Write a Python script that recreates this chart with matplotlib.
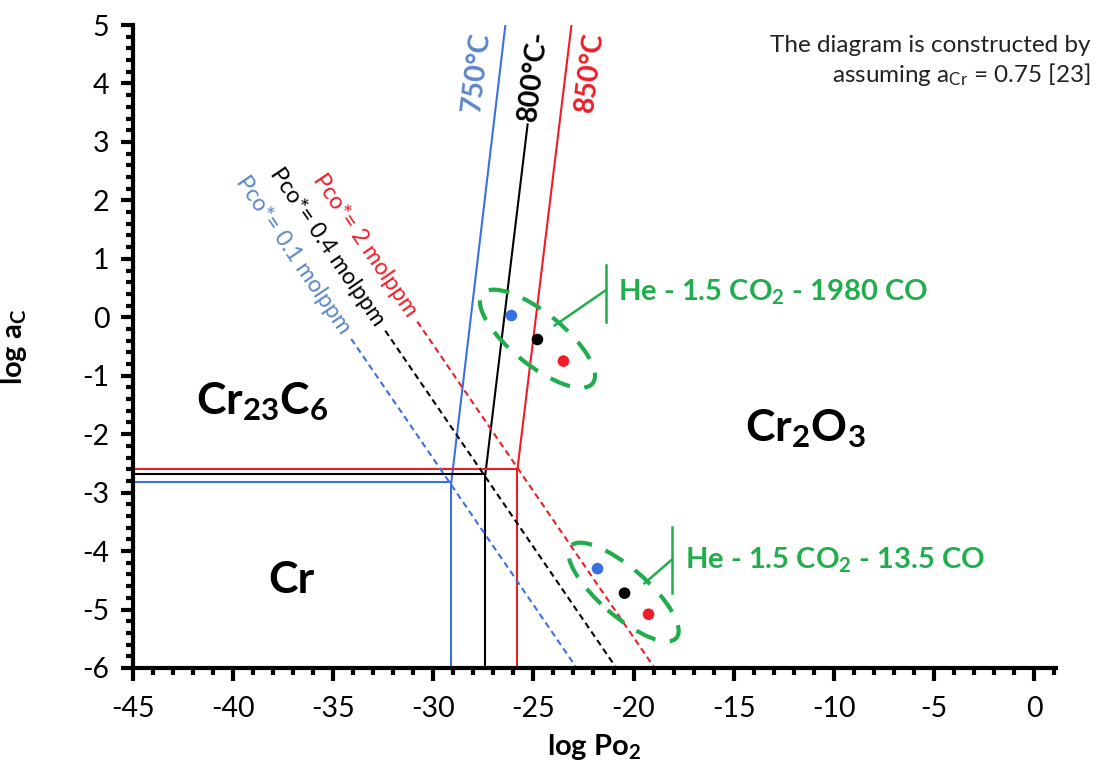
import numpy as np
import matplotlib
matplotlib.use("Agg")
import matplotlib.pyplot as plt
from matplotlib.patches import Ellipse
from matplotlib.transforms import ScaledTranslation
from matplotlib.ticker import MultipleLocator

plt.rcParams["font.family"] = ["Lato", "DejaVu Sans"]
plt.rcParams["mathtext.fontset"] = "custom"
plt.rcParams["mathtext.rm"] = "Lato"
plt.rcParams["mathtext.it"] = "Lato:italic"
plt.rcParams["mathtext.bf"] = "Lato:bold"
plt.rcParams["mathtext.default"] = "regular"
plt.rcParams["axes.unicode_minus"] = False

# ---- phase boundary data -------------------------------------------------
temps = ["750°C", "800°C-", "850°C"]
temp_colors = ["#3b6fe6", "#000000", "#ee1c25"]
temp_label_colors = ["#5a86c8", "#000000", "#ee1c25"]
# triple point (Cr / Cr23C6 / Cr2O3) for each temperature
corner_x = [-29.1, -27.4, -25.8]
corner_y = [-2.82, -2.68, -2.60]
# upper end of the Cr23C6 / Cr2O3 boundary
top_x = [-26.4, -25.29, -23.1]
top_y = [5.0, 3.3, 5.0]

# CO iso-pressure lines: log aC = -0.5 * log PO2 + b
pco_labels = ["Pco*= 0.1 molppm", "Pco*= 0.4 molppm", "Pco*= 2 molppm"]
pco_colors = ["#3b6fe6", "#000000", "#ee1c25"]
pco_text_colors = ["#5a86c8", "#000000", "#ee1c25"]
pco_slope = -0.5
pco_intercept = [-17.42, -16.43, -15.475]
pco_start_x = [-34.1, -32.4, -30.8]

# measured conditions (750, 800, 850 °C)
point_colors = ["#3b6fe6", "#000000", "#ee1c25"]
high_co_x = [-26.1, -24.8, -23.5]
high_co_y = [0.03, -0.38, -0.75]
low_co_x = [-21.8, -20.45, -19.25]
low_co_y = [-4.30, -4.72, -5.08]

x_ticks = [-45, -40, -35, -30, -25, -20, -15, -10, -5, 0]
y_ticks = [-6, -5, -4, -3, -2, -1, 0, 1, 2, 3, 4, 5]

green = "#1fae4b"

fig = plt.figure(figsize=(11.03, 7.65), dpi=100)
ax = fig.add_axes([133 / 1103, 1 - 668 / 765, (1056 - 133) / 1103, (668 - 25) / 765])
ax.set_xlim(-45, 1.1)
ax.set_ylim(-6, 5)

for s in ["top", "right"]:
    ax.spines[s].set_visible(False)
for s in ["left", "bottom"]:
    ax.spines[s].set_linewidth(3)
ax.spines["left"].set_bounds(-6, 5)
ax.set_xticks(x_ticks)
ax.set_yticks(y_ticks)
ax.xaxis.set_minor_locator(MultipleLocator(1))
ax.yaxis.set_minor_locator(MultipleLocator(0.2))
ax.tick_params(which="major", length=9, width=3, direction="out", labelsize=20.5, pad=8)
ax.tick_params(axis="x", which="major", pad=11)
ax.tick_params(which="minor", length=5, width=3, direction="out")

ax.set_xlabel("log Po$_\\mathbf{2}$", fontsize=21, fontweight="bold", labelpad=7)
ax.set_ylabel("log a$_\\mathbf{C}$", fontsize=21, fontweight="bold", labelpad=38)


def screen_angle(slope, x, y):
    ang = np.degrees(np.arctan(slope))
    return ax.transData.transform_angles(np.array([ang]), np.array([[x, y]]))[0]


# phase boundaries
for i in range(3):
    c = temp_colors[i]
    ax.plot([-45, corner_x[i]], [corner_y[i], corner_y[i]], color=c, lw=1.5)
    ax.plot([corner_x[i], corner_x[i]], [-6, corner_y[i]], color=c, lw=1.5)
    ax.plot([corner_x[i], top_x[i]], [corner_y[i], top_y[i]], color=c, lw=1.5)

# temperature labels
for i in range(3):
    slope = (top_y[i] - corner_y[i]) / (top_x[i] - corner_x[i])
    if i == 1:
        xt, yt = top_x[i], top_y[i]
        rot = screen_angle(slope, xt, yt)
        ax.annotate(temps[i], (xt, yt), xytext=(0.3, 2.5), textcoords="offset points",
                    rotation=rot, rotation_mode="anchor", ha="left", va="center",
                    fontsize=20.5, fontweight="bold", color=temp_label_colors[i])
    else:
        yt = 4.2
        xt = corner_x[i] + (yt - corner_y[i]) / slope
        rot = screen_angle(slope, xt, yt)
        off = -17 if i == 0 else 17
        ax.annotate(temps[i], (xt, yt), xytext=(off, 0), textcoords="offset points",
                    rotation=rot, rotation_mode="anchor", ha="center", va="center",
                    fontsize=20.5, fontweight="bold", color=temp_label_colors[i])

# CO iso-pressure lines and their labels
for i in range(3):
    b = pco_intercept[i]
    x0 = pco_start_x[i]
    x1 = (-6 - b) / pco_slope
    ax.plot([x0, x1], [pco_slope * x0 + b, -6], color=pco_colors[i], lw=1.5,
            ls=(0, (3, 2)))
    xt = x0 - 0.25
    yt = pco_slope * xt + b
    rot = screen_angle(pco_slope, xt, yt)
    ax.text(xt, yt, pco_labels[i], rotation=rot, rotation_mode="anchor",
            ha="right", va="center", fontsize=16.5, color=pco_text_colors[i])

# measured points
ax.scatter(high_co_x, high_co_y, s=70, c=point_colors, zorder=5, linewidths=0)
ax.scatter(low_co_x, low_co_y, s=70, c=point_colors, zorder=5, linewidths=0)


def group_ellipse(xs, ys, w, h, ang):
    cx, cy = np.mean(xs), np.mean(ys)
    tr = fig.dpi_scale_trans + ScaledTranslation(cx, cy, ax.transData)
    e = Ellipse((0, 0), w, h, angle=ang, transform=tr, fill=False,
                edgecolor=green, lw=3, ls=(0, (5, 3.5)), zorder=4)
    ax.add_patch(e)


group_ellipse(high_co_x, high_co_y, 1.42, 0.52, -39)
group_ellipse(low_co_x, low_co_y, 1.40, 0.48, -41)

# callouts
ax.plot([-23.94, -21.4], [-0.14, 0.46], color=green, lw=1.8)
ax.plot([-21.4, -21.4], [-0.08, 0.9], color=green, lw=1.8)
ax.text(-20.8, 0.42, "He - 1.5 CO$_\\mathbf{2}$ - 1980 CO", fontsize=21,
        fontweight="bold", color=green, ha="left", va="center")
ax.plot([-19.45, -18.1], [-4.55, -4.15], color=green, lw=1.8)
ax.plot([-18.1, -18.1], [-4.72, -3.58], color=green, lw=1.8)
ax.text(-17.45, -4.15, "He - 1.5 CO$_\\mathbf{2}$ - 13.5 CO", fontsize=21,
        fontweight="bold", color=green, ha="left", va="center")

# stability fields
ax.text(-38.55, -1.45, "Cr$_\\mathbf{23}$C$_\\mathbf{6}$", fontsize=32, fontweight="bold",
        ha="center", va="center")
ax.text(-11.4, -1.9, "Cr$_\\mathbf{2}$O$_\\mathbf{3}$", fontsize=32, fontweight="bold",
        ha="center", va="center")
ax.text(-37.1, -4.5, "Cr", fontsize=32, fontweight="bold", ha="center", va="center")

fig.text(1090 / 1103, 1 - 45 / 765, "The diagram is constructed by",
         fontsize=17.5, ha="right", va="center", color="#222222")
fig.text(1090 / 1103, 1 - 75 / 765, "assuming a$_{Cr}$ = 0.75 [23]",
         fontsize=17.5, ha="right", va="center", color="#222222")

fig.savefig("out.png", dpi=100)
